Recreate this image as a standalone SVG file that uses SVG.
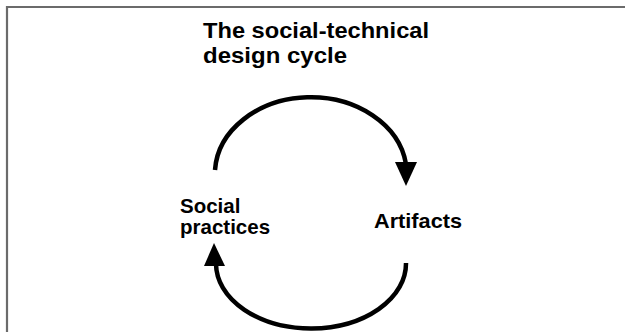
<svg xmlns="http://www.w3.org/2000/svg" width="625" height="332" viewBox="0 0 625 332">
  <style>
    .frame { stroke: #6b6b6b; stroke-width: 2.2; fill: none; }
    .arc { stroke: #000; stroke-width: 4.5; fill: none; }
    .head { fill: #000; }
    .title { font-family: "Liberation Sans", Arial, sans-serif; font-weight: bold; font-size: 21.5px; fill: #000; }
    .label { font-family: "Liberation Sans", Arial, sans-serif; font-weight: bold; font-size: 20.5px; fill: #000; }
  </style>
  <rect width="625" height="332" fill="#fff"/>
  <!-- frame lines: top and left edges -->
  <path class="frame" d="M7 332 V7 H625"/>

  <g id="title">
    <text class="title" x="203" y="38" textLength="226" lengthAdjust="spacingAndGlyphs">The social-technical</text>
    <text class="title" x="203" y="62.5" textLength="144" lengthAdjust="spacingAndGlyphs">design cycle</text>
  </g>

  <g id="social-practices">
    <text class="label" x="180" y="213">Social</text>
    <text class="label" x="180" y="234">practices</text>
  </g>

  <g id="artifacts">
    <text class="label" x="374" y="228" textLength="88" lengthAdjust="spacingAndGlyphs">Artifacts</text>
  </g>

  <g id="connectors">
    <!-- upper arc: social practices to artifacts -->
    <path class="arc" d="M215 170 A96 77 0 0 1 406 164"/>
    <polygon class="head" points="395,162 417,162 406,186"/>
    <!-- lower arc: artifacts back to social practices -->
    <path class="arc" d="M406 263 A95 65 0 0 1 216 264"/>
    <polygon class="head" points="204,266 225,266 214,243"/>
  </g>
</svg>
